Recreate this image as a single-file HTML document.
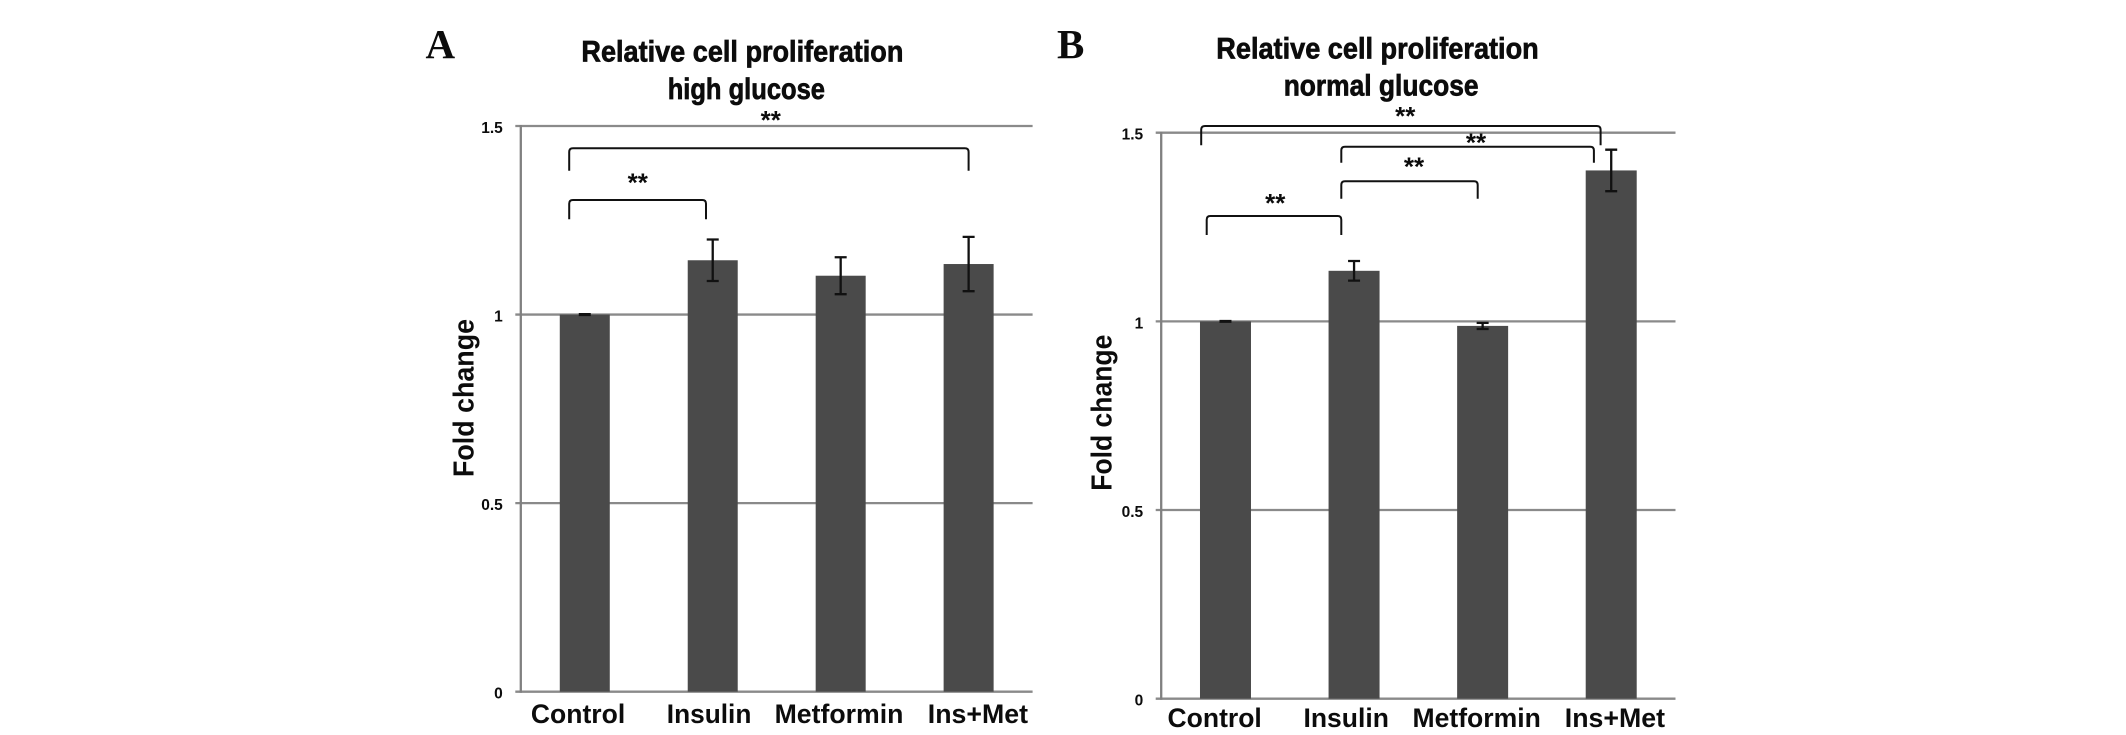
<!DOCTYPE html>
<html lang="en">
<head>
<meta charset="utf-8">
<title>Relative cell proliferation</title>
<style>
html,body{margin:0;padding:0;background:#fff}
svg{display:block}
text{font-family:"Liberation Sans",sans-serif;fill:#0c0c0c}
.title,.xl,.yt,.yl,.st{font-weight:700}
.title{font-size:30px;stroke:#0c0c0c;stroke-width:.7px}
.xl{font-size:26.5px}
.yt{font-size:28.8px}
.yl{font-size:15.5px}
.st{font-size:26px}
.panel{font-family:"Liberation Serif",serif;font-weight:700;font-size:41px}
.br{fill:none;stroke:#111;stroke-width:2}
</style>
</head>
<body>
<svg id="fig" width="2126" height="735" viewBox="0 0 2126 735" xmlns="http://www.w3.org/2000/svg">
<rect width="2126" height="735" fill="#fff"/>

<g id="chartA"></g>
<g id="chartB"></g>

<text class="panel" x="425.5" y="58">A</text>
<text class="title" x="581.4" y="61.5" textLength="322" lengthAdjust="spacingAndGlyphs">Relative cell proliferation</text>
<text class="title" x="667.7" y="99" textLength="157.3" lengthAdjust="spacingAndGlyphs">high glucose</text>
<text class="yt" transform="translate(473.6 477) rotate(-90)" textLength="158" lengthAdjust="spacingAndGlyphs">Fold change</text>
<text class="xl" x="530.9" y="723" textLength="94.3" lengthAdjust="spacingAndGlyphs">Control</text>
<text class="xl" x="666.8" y="723" textLength="84.6" lengthAdjust="spacingAndGlyphs">Insulin</text>
<text class="xl" x="774.6" y="723" textLength="128.8" lengthAdjust="spacingAndGlyphs">Metformin</text>
<text class="xl" x="927.8" y="723" textLength="100.2" lengthAdjust="spacingAndGlyphs">Ins+Met</text>

<path class="br" d="M569.2 170.7V152Q569.2 148.3 573 148.3H964.8Q968.6 148.3 968.6 152V170.7"/>
<path class="br" d="M569.2 219.3V203.7Q569.2 200 573 200H702.2Q706 200 706 203.7V219.3"/>
<text class="st" x="770.8" y="129" text-anchor="middle">**</text>
<text class="st" x="637.8" y="191.5" text-anchor="middle">**</text>

<text class="panel" x="1057" y="58">B</text>
<text class="title" x="1216.3" y="58.3" textLength="322.4" lengthAdjust="spacingAndGlyphs">Relative cell proliferation</text>
<text class="title" x="1283.7" y="95.7" textLength="194.9" lengthAdjust="spacingAndGlyphs">normal glucose</text>
<text class="yt" transform="translate(1111.5 490.7) rotate(-90)" textLength="156" lengthAdjust="spacingAndGlyphs">Fold change</text>
<text class="xl" x="1167.5" y="727" textLength="94.3" lengthAdjust="spacingAndGlyphs">Control</text>
<text class="xl" x="1303.5" y="727" textLength="85.4" lengthAdjust="spacingAndGlyphs">Insulin</text>
<text class="xl" x="1412.5" y="727" textLength="128.3" lengthAdjust="spacingAndGlyphs">Metformin</text>
<text class="xl" x="1564.8" y="727" textLength="100.2" lengthAdjust="spacingAndGlyphs">Ins+Met</text>

<path class="br" d="M1201.2 145.3V129.7Q1201.2 126 1205 126H1596.8Q1600.6 126 1600.6 129.7V145.3"/>
<path class="br" d="M1341.3 162.7V150.4Q1341.3 146.7 1345 146.7H1590.2Q1593.9 146.7 1593.9 150.4V162.7"/>
<path class="br" d="M1341.3 198.7V185Q1341.3 181.3 1345 181.3H1474Q1477.7 181.3 1477.7 185V198.7"/>
<path class="br" d="M1206.7 235V219.7Q1206.7 216 1210.4 216H1337.6Q1341.3 216 1341.3 219.7V235"/>
<text class="st" x="1405.3" y="125" text-anchor="middle">**</text>
<text class="st" x="1476" y="151.3" text-anchor="middle">**</text>
<text class="st" x="1414" y="175.3" text-anchor="middle">**</text>
<text class="st" x="1275.3" y="212" text-anchor="middle">**</text>
</svg>

<script>
const categories = ['Control', 'Insulin', 'Metformin', 'Ins+Met'];
const yTickValues = [0, 0.5, 1, 1.5];
const yTickLabels = ['0', '0.5', '1', '1.5'];
const highGlucoseValues = [1, 1.144, 1.103, 1.134];
const highGlucoseErrors = [0.001, 0.055, 0.049, 0.072];
const normalGlucoseValues = [1, 1.134, 0.988, 1.4];
const normalGlucoseErrors = [0.001, 0.026, 0.008, 0.055];

const SVG_NS = 'http://www.w3.org/2000/svg';

function make(parent, tag, attrs) {
  const el = document.createElementNS(SVG_NS, tag);
  for (const k in attrs) el.setAttribute(k, attrs[k]);
  parent.appendChild(el);
  return el;
}

function drawChart(groupId, prefix, values, errors, frame) {
  const root = document.getElementById(groupId);
  const yScale = v => frame.bottom - (v / 1.5) * (frame.bottom - frame.top);
  const step = (frame.right - frame.left) / categories.length;
  const xScale = i => frame.left + step * (i + 0.5);

  yTickValues.forEach((t, i) => {
    const grid = make(root, 'line', {x1: frame.left - 5.5, x2: frame.right, y1: yScale(t), y2: yScale(t), stroke: '#8a8a8a', 'stroke-width': 2.3});
    
    
    const label = make(root, 'text', {class: 'yl', x: frame.left - 18, y: yScale(t) + 7, 'text-anchor': 'end'});
    label.textContent = yTickLabels[i];
    
    
  });

  const axis = make(root, 'line', {x1: frame.left, x2: frame.left, y1: yScale(1.5) - 1, y2: yScale(0) + 1, stroke: '#808080', 'stroke-width': 2.3});
  
  

  categories.forEach((c, i) => {
    const cx = xScale(i);
    const slug = c.toLowerCase().replace(/[^a-z]/g, '-');
    const bar = make(root, 'rect', {x: cx - frame.barWidth / 2, y: yScale(values[i]), width: frame.barWidth, height: yScale(0) - yScale(values[i]), fill: '#4a4a4a'});
    
    

    const hi = yScale(values[i] + errors[i]);
    const lo = yScale(values[i] - errors[i]);
    const err = make(root, 'path', {d: 'M' + (cx - 6) + ' ' + hi + 'H' + (cx + 6) + 'M' + cx + ' ' + hi + 'V' + lo + 'M' + (cx - 6) + ' ' + lo + 'H' + (cx + 6), fill: 'none', stroke: '#111', 'stroke-width': 2.3});
    
    
  });
}

drawChart('chartA', 'chart-a', highGlucoseValues, highGlucoseErrors, {left: 520.8, right: 1032.6, top: 126, bottom: 691.7, barWidth: 50});
drawChart('chartB', 'chart-b', normalGlucoseValues, normalGlucoseErrors, {left: 1161.2, right: 1675.5, top: 132.7, bottom: 698.7, barWidth: 51});
</script>
</body>
</html>
